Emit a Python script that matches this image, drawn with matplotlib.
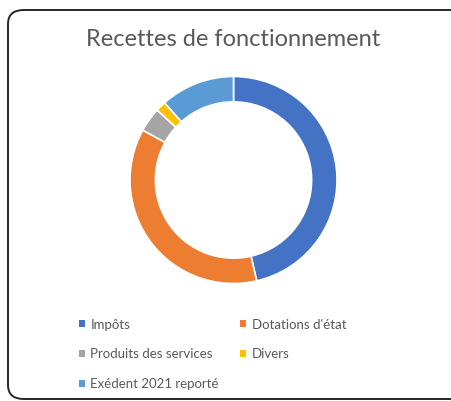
import matplotlib.pyplot as plt
from matplotlib.patches import FancyBboxPatch, Patch

categories = ["Impôts", "Dotations d'état", "Produits des services", "Divers", "Exédent 2021 reporté"]
values = [46.4, 36.6, 3.8, 1.6, 11.6]
colors = ["#4472C4", "#ED7D31", "#A5A5A5", "#FFC000", "#5B9BD5"]

plt.rcParams['font.family'] = ['Lato', 'DejaVu Sans']

W, H = 451, 401
fig = plt.figure(figsize=(W / 100, H / 100), dpi=100)

# rounded frame, right side runs off the picture
frame = FancyBboxPatch((8 / W, 1 - 399 / H), 460 / W, 389 / H,
                       boxstyle="round,pad=0,rounding_size=0.035",
                       transform=fig.transFigure, fill=False,
                       edgecolor="#262626", linewidth=1.4, clip_on=False)
fig.patches.append(frame)

fig.text(233 / W, 1 - 39 / H, "Recettes de fonctionnement", ha="center", va="center",
         fontsize=17, color="#595959")

cx, cy, r = 233.5, 180, 103.5
ax = fig.add_axes([(cx - r) / W, 1 - (cy + r) / H, 2 * r / W, 2 * r / H])
wedges, _ = ax.pie(values, colors=colors, startangle=90, counterclock=False,
                   radius=1, wedgeprops=dict(width=0.245, edgecolor="white", linewidth=1.2))
ax.set_xlim(-1, 1)
ax.set_ylim(-1, 1)
ax.set_aspect("equal")
ax.axis("off")

# row-major order like the reference: col 1 then col 2
order = [0, 2, 4, 1, 3]
handles = [Patch(facecolor=colors[i], edgecolor="none") for i in order]
labels = [categories[i] for i in order]
fig.legend(handles, labels, ncol=2, loc="upper left",
           bbox_to_anchor=(72 / W, 1 - 312 / H), frameon=False,
           fontsize=9.5, labelcolor="#595959", handlelength=0.45, handleheight=0.45,
           handletextpad=0.45, columnspacing=1.6, labelspacing=1.35, borderpad=0)

fig.savefig("out.png", dpi=100)
